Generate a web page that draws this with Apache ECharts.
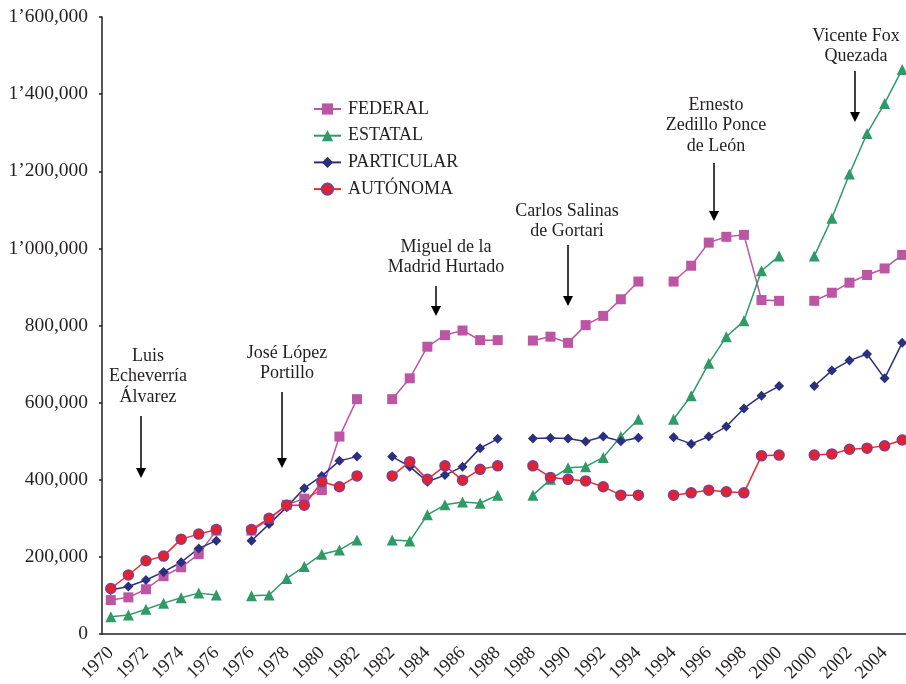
<!DOCTYPE html>
<html>
<head>
<meta charset="utf-8">
<script src="https://cdn.jsdelivr.net/npm/echarts@6/dist/echarts.min.js"></script>
<style>
html,body{margin:0;padding:0;background:#fff;}
#chart{width:906px;height:684px;}
</style>
</head>
<body>
<div id="chart"></div>
<script>
// Categories: six presidential terms, separated by an empty gap category
var years = [
  '1970','1971','1972','1973','1974','1975','1976','',
  '1976','1977','1978','1979','1980','1981','1982','',
  '1982','1983','1984','1985','1986','1987','1988','',
  '1988','1989','1990','1991','1992','1993','1994','',
  '1994','1995','1996','1997','1998','1999','2000','',
  '2000','2001','2002','2003','2004','2005'
];

var federal = [
  88000, 95000, 116000, 150000, 173000, 207000, 268000, null,
  268000, 297000, 335000, 351000, 373000, 512000, 609000, null,
  609000, 663000, 745000, 775000, 787000, 762000, 762000, null,
  761000, 771000, 755000, 801000, 825000, 868000, 914000, null,
  914000, 955000, 1015000, 1030000, 1035000, 866000, 864000, null,
  864000, 885000, 911000, 931000, 948000, 983000
];
var estatal = [
  45000, 49000, 64000, 80000, 94000, 106000, 101000, null,
  99000, 101000, 144000, 175000, 207000, 218000, 244000, null,
  244000, 241000, 309000, 335000, 342000, 339000, 360000, null,
  360000, 401000, 431000, 434000, 458000, 512000, 557000, null,
  557000, 618000, 702000, 771000, 812000, 942000, 980000, null,
  980000, 1078000, 1193000, 1298000, 1376000, 1464000
];
var particular = [
  114000, 123000, 140000, 161000, 186000, 222000, 242000, null,
  242000, 285000, 329000, 378000, 410000, 449000, 460000, null,
  460000, 434000, 395000, 412000, 434000, 482000, 506000, null,
  507000, 508000, 507000, 499000, 512000, 500000, 509000, null,
  510000, 493000, 512000, 538000, 585000, 618000, 643000, null,
  643000, 683000, 709000, 726000, 663000, 755000
];
var autonoma = [
  118000, 153000, 190000, 202000, 246000, 259000, 271000, null,
  271000, 300000, 334000, 334000, 395000, 382000, 410000, null,
  410000, 447000, 401000, 436000, 399000, 427000, 436000, null,
  436000, 406000, 401000, 397000, 382000, 360000, 360000, null,
  360000, 366000, 373000, 369000, 366000, 462000, 464000, null,
  464000, 467000, 479000, 482000, 488000, 503000
];

var seriesNames = ['FEDERAL', 'ESTATAL', 'PARTICULAR', 'AUTÓNOMA'];

// President annotations: text lines and arrow geometry (annotation layout, not data)
var presidents = [
  {lines: ['Luis', 'Echeverría', 'Álvarez'], cx: 148, ty: 356, ax: 141, ay1: 416, ay2: 478},
  {lines: ['José López', 'Portillo'], cx: 287, ty: 353, ax: 282, ay1: 392, ay2: 468},
  {lines: ['Miguel de la', 'Madrid Hurtado'], cx: 446, ty: 247, ax: 436, ay1: 286, ay2: 316},
  {lines: ['Carlos Salinas', 'de Gortari'], cx: 567, ty: 211, ax: 568, ay1: 245, ay2: 306},
  {lines: ['Ernesto', 'Zedillo Ponce', 'de León'], cx: 716, ty: 105, ax: 714, ay1: 163, ay2: 221},
  {lines: ['Vicente Fox', 'Quezada'], cx: 856, ty: 36, ax: 855, ay1: 71, ay2: 122}
];

var FONT = '"Liberation Serif", "DejaVu Serif", serif';
var TXT = '#231f20';

function fmtY(v) {
  if (v === 0) return '0';
  var m = Math.floor(v / 1000000);
  var rest = v % 1000000;
  var th = Math.floor(rest / 1000);
  var s = (th < 10 ? '00' : th < 100 ? '0' : '') + th + ',000';
  if (m > 0) return m + '\u2019' + s;
  return th + ',000';
}

var graphics = [];
presidents.forEach(function (p) {
  p.lines.forEach(function (ln, i) {
    graphics.push({
      type: 'text',
      x: p.cx, y: p.ty + i * 20.5,
      style: {text: ln, fill: TXT, font: '18px ' + FONT, textAlign: 'center', textVerticalAlign: 'middle'},
      z: 100
    });
  });
  graphics.push({
    type: 'line',
    shape: {x1: p.ax, y1: p.ay1, x2: p.ax, y2: p.ay2 - 8},
    style: {stroke: '#000', lineWidth: 1.5}, z: 100
  });
  graphics.push({
    type: 'polygon',
    shape: {points: [[p.ax - 5, p.ay2 - 10], [p.ax + 5, p.ay2 - 10], [p.ax, p.ay2]]},
    style: {fill: '#000'}, z: 100
  });
});

var chart = echarts.init(document.getElementById('chart'), null, {renderer: 'canvas'});
chart.setOption({
  animation: false,
  backgroundColor: '#fff',
  textStyle: {fontFamily: FONT, color: TXT},
  grid: {left: 102, top: 17, width: 809, bottom: 50, containLabel: false, outerBoundsMode: 'none'},
  legend: {
    orient: 'vertical', left: 313, top: 100, padding: 0,
    itemWidth: 27, itemHeight: 14, itemGap: 8.7,
    textStyle: {fontSize: 18, fontFamily: FONT, color: TXT, padding: [0, 0, 0, 2]},
    data: seriesNames
  },
  xAxis: {
    type: 'category', data: years, boundaryGap: true,
    axisLine: {lineStyle: {color: TXT, width: 1.5}},
    axisTick: {interval: 0, length: 4, lineStyle: {color: TXT, width: 1.5}},
    axisLabel: {interval: 1, rotate: 45, fontSize: 18.5, fontFamily: FONT, color: TXT, margin: 16},
    splitLine: {show: false}
  },
  yAxis: {
    type: 'value', min: 0, max: 1600000, interval: 200000,
    axisLine: {show: true, lineStyle: {color: TXT, width: 1.5}},
    axisTick: {show: true, length: 3, lineStyle: {color: TXT, width: 1.5}},
    axisLabel: {fontSize: 19.5, fontFamily: FONT, color: TXT, margin: 14, formatter: fmtY},
    splitLine: {show: false}
  },
  series: [
    {name: 'FEDERAL', type: 'line', data: federal, symbol: 'rect', symbolSize: 10,
     lineStyle: {color: '#bc55a3', width: 1.5}, itemStyle: {color: '#bc55a3'}, connectNulls: false},
    {name: 'ESTATAL', type: 'line', data: estatal, symbol: 'triangle', symbolSize: 11,
     lineStyle: {color: '#2e9a68', width: 1.5}, itemStyle: {color: '#2e9a68'}, connectNulls: false},
    {name: 'PARTICULAR', type: 'line', data: particular, symbol: 'diamond', symbolSize: 10,
     lineStyle: {color: '#2b2f7f', width: 1.5}, itemStyle: {color: '#2b2f7f'}, connectNulls: false},
    {name: 'AUTÓNOMA', type: 'line', data: autonoma, symbol: 'circle', symbolSize: 10,
     lineStyle: {color: '#ee2a2e', width: 1.5},
     itemStyle: {color: '#e8202a', borderColor: '#7b3f98', borderWidth: 1.5}, connectNulls: false}
  ],
  graphic: graphics
});
</script>
</body>
</html>
